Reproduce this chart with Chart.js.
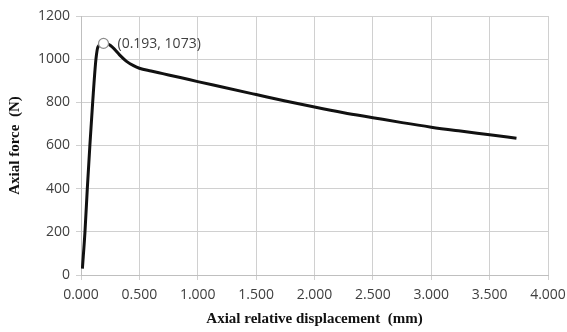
<!DOCTYPE html>
<html>
<head>
<meta charset="utf-8">
<script src="https://cdn.jsdelivr.net/npm/chart.js@4"></script>
<style>
  html, body { margin: 0; padding: 0; background: #fff; }
  #wrap { width: 567px; height: 332px; }
</style>
</head>
<body>
<div id="wrap"><canvas id="ForceDisp"></canvas></div>
<script>
// values
const dispMm = [0.012, 0.034, 0.054, 0.076, 0.100, 0.128, 0.146, 0.193, 0.24, 0.28, 0.33, 0.39, 0.45, 0.5, 0.6, 0.7, 0.85, 1.0, 1.2, 1.5, 1.75, 2.0, 2.25, 2.5, 2.75, 3.0, 3.25, 3.5, 3.73];
const forceN = [30, 200, 400, 600, 800, 1000, 1058, 1073, 1068, 1050, 1020, 990, 970, 958, 945, 933, 915, 896, 872, 836, 806, 778, 752, 729, 706, 685, 667, 650, 634];
const peakIndex = 7;
const peakLabel = '(0.193, 1073)';

const tickFont = { family: "'Open Sans', 'Liberation Sans', sans-serif", size: 14 };
const titleFont = { family: "'Liberation Serif', serif", size: 15, weight: 'bold' };

const peakLabelPlugin = {
    id: 'peakLabel',
    afterDatasetsDraw(chart) {
        const pt = chart.getDatasetMeta(0).data[peakIndex];
        const ctx = chart.ctx;
        ctx.save();
        ctx.font = "14px 'Open Sans', 'Liberation Sans', sans-serif";
        ctx.fillStyle = '#404040';
        ctx.textBaseline = 'middle';
        ctx.fillText(peakLabel, pt.x + 14, pt.y + 1);
        ctx.restore();
    }
};

new Chart(document.getElementById('ForceDisp'), {
    type: 'scatter',
    plugins: [peakLabelPlugin],
    data: {
        datasets: [{
            label: 'Axial force',
            data: dispMm.map((x, i) => ({ x: x, y: forceN[i] })),
            showLine: true,
            borderColor: '#111',
            borderWidth: 3,
            cubicInterpolationMode: 'monotone',
            pointRadius: ctx => ctx.dataIndex === peakIndex ? 5 : 0,
            pointBackgroundColor: '#fff',
            pointBorderColor: '#8c8c8c',
            pointBorderWidth: 1.2,
        }]
    },
    options: {
        responsive: true,
        maintainAspectRatio: false,
        animation: false,
        layout: { padding: { top: 16, right: 19, left: 0, bottom: 0 } },
        scales: {
            x: {
                min: 0, max: 4,
                afterFit: s => { s.height = 57; s.paddingRight = 0; s.paddingLeft = 0; },
                ticks: {
                    stepSize: 0.5,
                    color: '#404040',
                    font: tickFont,
                    padding: 7,
                    maxRotation: 0,
                    callback: v => Number(v).toFixed(3)
                },
                grid: { color: '#d0d0d0', tickLength: 5 },
                border: { color: '#bfbfbf' },
                title: { display: true, text: 'Axial relative displacement  (mm)', font: titleFont, color: '#111', padding: { top: 0, bottom: 4 } }
            },
            y: {
                min: 0, max: 1200,
                afterFit: s => { s.width = 81; },
                ticks: {
                    stepSize: 200,
                    color: '#404040',
                    font: tickFont,
                    padding: 6,
                    callback: v => String(v)
                },
                grid: { color: '#d0d0d0', tickLength: 5 },
                border: { color: '#bfbfbf' },
                title: { display: true, text: 'Axial force  (N)', font: titleFont, color: '#111', padding: { top: 6, bottom: 0 } }
            }
        },
        plugins: {
            legend: { display: false },
            tooltip: { enabled: false }
        }
    }
});
</script>
</body>
</html>
